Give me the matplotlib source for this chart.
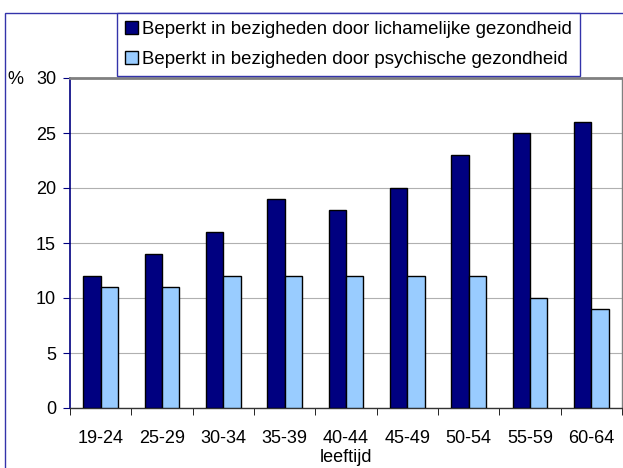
import matplotlib
matplotlib.use("Agg")
import matplotlib.pyplot as plt
from matplotlib.patches import Rectangle
import numpy as np

plt.rcParams['font.family'] = ['Liberation Sans', 'DejaVu Sans']

categories = ["19-24", "25-29", "30-34", "35-39", "40-44", "45-49", "50-54", "55-59", "60-64"]
lichamelijk = [12, 14, 16, 19, 18, 20, 23, 25, 26]
psychisch = [11, 11, 12, 12, 12, 12, 12, 10, 9]
series_labels = ["Beperkt in bezigheden door lichamelijke gezondheid",
                 "Beperkt in bezigheden door psychische gezondheid"]
yticks = [0, 5, 10, 15, 20, 25, 30]

FS = 13
W, H = 623, 468
fig = plt.figure(figsize=(W / 100, H / 100), dpi=100)
ax = fig.add_axes([70 / W, 1 - 408 / H, 552 / W, 330 / H])

x = np.arange(len(categories))
bw = 0.285
b1 = ax.bar(x - bw / 2, lichamelijk, bw, color="#000080", edgecolor="black", linewidth=1, zorder=3,
            label=series_labels[0])
b2 = ax.bar(x + bw / 2, psychisch, bw, color="#99CCFF", edgecolor="black", linewidth=1, zorder=3,
            label=series_labels[1])

ax.set_xlim(-0.5, len(categories) - 0.5)
ax.set_ylim(0, 30)
ax.set_yticks(yticks)
ax.set_yticklabels([str(v) for v in yticks], fontsize=FS)
ax.set_xticks(x)
ax.set_xticklabels(categories, fontsize=FS)
ax.tick_params(axis='x', length=0, pad=16)
ax.set_xticks(np.arange(len(categories) + 1) - 0.5, minor=True)
ax.tick_params(axis='x', which='minor', length=5, direction='out', color='black')
ax.tick_params(axis='y', length=5, direction='out', color='#000080', pad=5)
ax.yaxis.grid(True, color="#B0B0B0", linewidth=0.8, zorder=0)
ax.set_axisbelow(True)

ax.spines['left'].set_color('#000080')
ax.spines['left'].set_linewidth(1.2)
ax.spines['bottom'].set_color('#333333')
ax.spines['bottom'].set_linewidth(1.0)
ax.spines['top'].set_color('#808080')
ax.spines['top'].set_linewidth(2.0)
ax.spines['right'].set_color('#808080')
ax.spines['right'].set_linewidth(1.0)

ax.set_xlabel("leeftijd", fontsize=FS, labelpad=1.5)
fig.text(7 / W, 1 - 80 / H, "%", fontsize=FS, ha='left', va='center')

# outer chart frame
fig.patches.append(Rectangle((5 / W, -0.1), 2, 1.1 - 13 / H, transform=fig.transFigure,
                             fill=False, edgecolor="#3333AA", linewidth=1.0))

leg = fig.legend(handles=[b1, b2], loc='upper left',
                 bbox_to_anchor=(117 / W, 1 - 13 / H), fontsize=13.4,
                 frameon=True, fancybox=False, edgecolor="#3333AA", framealpha=1,
                 handlelength=0.7, handleheight=0.7, handletextpad=0.2,
                 labelspacing=0.68, borderpad=0.45, borderaxespad=0)
leg.get_frame().set_linewidth(1.0)

fig.savefig("out.png", dpi=100)
